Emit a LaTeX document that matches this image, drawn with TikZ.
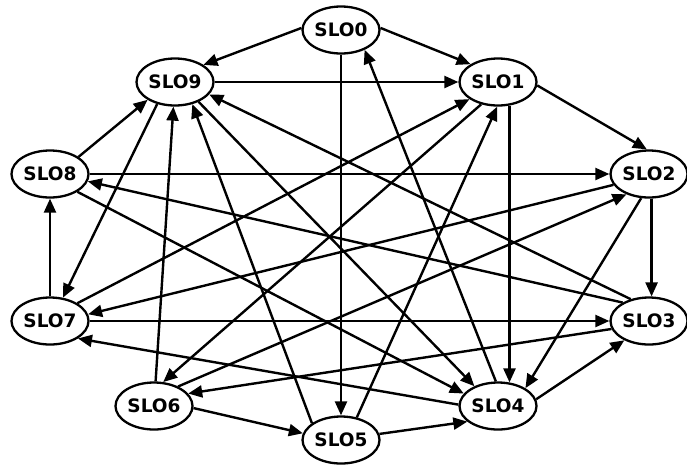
\documentclass[tikz,border=0pt]{standalone}
\usepackage{fontspec}
\setmainfont{DejaVu Sans}
\usetikzlibrary{shapes.geometric,arrows.meta}
\begin{document}
\begin{tikzpicture}[x=1pt,y=-1pt,
  slo/.style={ellipse,draw,line width=2.3pt,minimum width=77pt,minimum height=47pt,
    inner xsep=-1pt,inner ysep=0pt,font=\fontsize{18.5}{21}\selectfont\bfseries},
  edge/.style={line width=2.4pt,-{Triangle[length=14pt,width=12pt]}}]
\useasboundingbox (0,0) rectangle (687,464);
% the ten SLO nodes
\node[slo] (SLO0) at (341,30)  {SLO0};
\node[slo] (SLO9) at (175,82)  {SLO9};
\node[slo] (SLO1) at (498,82)  {SLO1};
\node[slo] (SLO2) at (649,174) {SLO2};
\node[slo] (SLO8) at (50,174)  {SLO8};
\node[slo] (SLO7) at (50,321)  {SLO7};
\node[slo] (SLO3) at (649,321) {SLO3};
\node[slo] (SLO6) at (154,406) {SLO6};
\node[slo] (SLO5) at (341,440) {SLO5};
\node[slo] (SLO4) at (498,406) {SLO4};
% directed links
\draw[edge] (SLO0.177) -- (SLO9.31);
\draw[edge] (SLO0.3) -- (SLO1.147);
\draw[edge] (SLO0.south) -- (SLO5.north);
\draw[edge] (SLO4.95) -- (SLO0.-40);
\draw[edge] (SLO9.east) -- (SLO1.west);
\draw[edge] (SLO1.-5) -- (SLO2.95);
\draw[edge] (SLO1.-64) -- (SLO4.64);
\draw[edge] (SLO1.-127) -- (SLO6.69);
\draw[edge] (SLO7.33) -- (SLO1.-149);
\draw[edge] (SLO5.55) -- (SLO1.-92);
\draw[edge] (SLO8.31) -- (SLO9.-147);
\draw[edge] (SLO8.east) -- (SLO2.west);
\draw[edge] (SLO8.-33) -- (SLO4.160);
\draw[edge] (SLO3.145) -- (SLO8.-11);
\draw[edge] (SLO7.north) -- (SLO8.south);
\draw[edge] (SLO9.-129) -- (SLO7.61);
\draw[edge] (SLO6) -- (SLO9);
\draw[edge] (SLO5.150) -- (SLO9.-52);
\draw[edge] (SLO9.-40) -- (SLO4.140);
\draw[edge] (SLO3.130) -- (SLO9.-20);
\draw[edge] (SLO2.197) -- (SLO7.10);
\draw[edge] (SLO6.39) -- (SLO2.-138);
\draw[edge] (SLO2.-84) -- (SLO3.84);
\draw[edge] (SLO2.-108) -- (SLO4.33);
\draw[edge] (SLO7.east) -- (SLO3.west);
\draw[edge] (SLO3.192) -- (SLO6.20);
\draw[edge] (SLO4.10) -- (SLO3.-142);
\draw[edge] (SLO4.178) -- (SLO7.-32);
\draw[edge] (SLO6.-3) -- (SLO5.170);
\draw[edge] (SLO5.9) -- (SLO4.-153);
\end{tikzpicture}
\end{document}
